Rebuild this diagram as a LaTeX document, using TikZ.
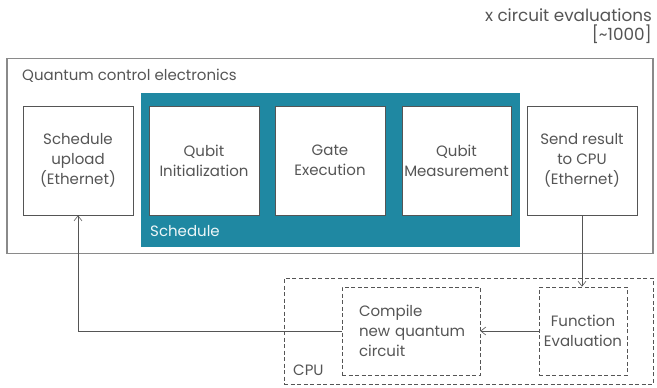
\documentclass[tikz,border=0pt]{standalone}
\usepackage{fontspec}
\setmainfont{Poppins}
\usetikzlibrary{arrows.meta}
\definecolor{teal1}{HTML}{1F88A2}
\definecolor{txt}{HTML}{555555}
\definecolor{edge}{HTML}{555555}
\definecolor{outer}{HTML}{8A8A8A}
\begin{document}
\begin{tikzpicture}[x=1pt,y=-1pt,
  every node/.style={font=\fontsize{15}{20}\selectfont, text=txt},
  blk/.style={draw=edge, line width=0.8pt, fill=white, minimum width=110pt, minimum height=109pt, align=center, inner sep=0pt},
  dblk/.style={draw=edge, line width=0.7pt, dash pattern=on 4pt off 2.5pt, minimum height=88pt, inner sep=0pt},
  conn/.style={draw=edge, line width=0.7pt, -{Straight Barb[length=5pt,width=8pt,line width=0.6pt]}},
  lbl/.style={inner sep=0pt, anchor=west}
]
\useasboundingbox (0,0) rectangle (657,388);
% outer frame
\node[draw=outer, line width=1.2pt, minimum width=646pt, minimum height=195pt, inner sep=0pt] (qce) at (330,156) {};
\node[lbl] (qcelbl) at (22,76) {Quantum control electronics};
% schedule teal
\node[fill=teal1, minimum width=379pt, minimum height=154pt, inner sep=0pt] (sched) at (330.5,170) {};
\node[lbl, text=white!92!teal1] (schedlbl) at (150,231) {Schedule};
% blocks
\node[blk] (upload) at (78,160.5) {Schedule\\upload\\(Ethernet)};
\node[blk] (init) at (204,160.5) {Qubit\\Initialization};
\node[blk] (gate) at (330,160.5) {Gate\\Execution};
\node[blk, minimum width=109pt] (meas) at (456.5,160.5) {Qubit\\Measurement};
\node[blk] (send) at (582,160.5) {Send result\\to CPU\\(Ethernet)};
% top right label
\node[inner sep=0pt, anchor=east, align=right, font=\fontsize{16.8}{19.5}\selectfont] (xeval) at (652,26) {x circuit evaluations\\{}[\textasciitilde1000]};
% CPU
\node[dblk, minimum width=369pt, minimum height=106pt] (cpu) at (468.5,331) {};
\node[lbl] (cpulbl) at (293,370) {CPU};
\node[dblk, minimum width=138pt, align=left, text width=126pt] (compile) at (411,331) {\hspace*{11pt}Compile\\\hspace*{11pt}new quantum\\\hspace*{11pt}circuit};
\node[dblk, minimum width=88pt, align=center] (func) at (583,331) {Function\\Evaluation};
% connectors
\draw[conn] (send.south) -- (send.south |- func.north);
\draw[conn] (func.west) -- (compile.east);
\draw[conn] (compile.west) -- (compile.west -| upload.south) -- (upload.south);
\end{tikzpicture}
\end{document}
